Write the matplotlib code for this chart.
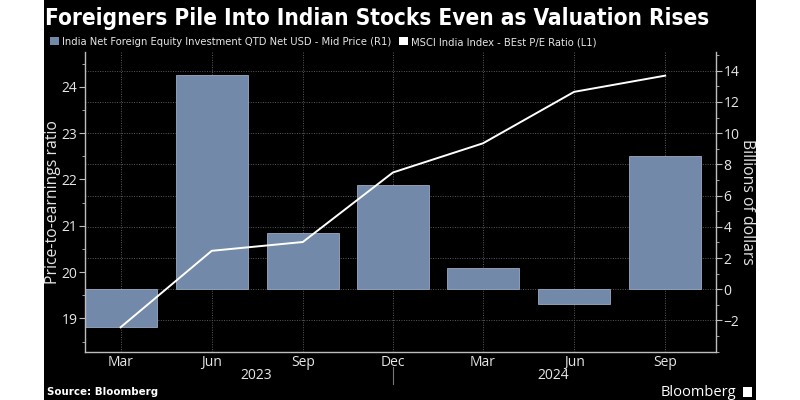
import numpy as np
import pandas as pd
import matplotlib
matplotlib.use("Agg")
import matplotlib.pyplot as plt
import matplotlib.dates as mdates
from matplotlib.patches import Patch, Rectangle
from matplotlib.ticker import MultipleLocator
from matplotlib import font_manager

# =========================
# Data
# =========================

quarters = ["2023-03-01", "2023-06-01", "2023-09-01", "2023-12-01",
            "2024-03-01", "2024-06-01", "2024-09-01"]
foreign_inflow_bn = [-2.44, 13.71, 3.63, 6.69, 1.39, -0.94, 8.54]
pe_ratio = [18.81, 20.46, 20.65, 22.15, 22.78, 23.89, 24.24]

month_ticks = ["2023-03-01", "2023-06-01", "2023-09-01", "2023-12-01",
               "2024-03-01", "2024-06-01", "2024-09-01"]
usd_ticks = [-2, 0, 2, 4, 6, 8, 10, 12, 14]
year_labels = ["2023", "2024"]
year_label_dates = ["2023-07-16", "2024-05-11"]

title = "Foreigners Pile Into Indian Stocks Even as Valuation Rises"
bar_label = "India Net Foreign Equity Investment QTD Net USD - Mid Price (R1)"
line_label = "MSCI India Index - BEst P/E Ratio (L1)"

BAR_COLOR = "#7389aa"
BG = "black"
FG = "#e6e6e6"
GRID = "#5a5a5a"

# pick a narrow font for title / legend if one is installed
installed = {f.name for f in font_manager.fontManager.ttflist}
narrow = "Liberation Sans Narrow" if "Liberation Sans Narrow" in installed else "DejaVu Sans"
narrow_kw = {"family": narrow}
if narrow == "DejaVu Sans":
    narrow_kw["stretch"] = "condensed"

dates = pd.to_datetime(quarters)
plt.rcParams["font.family"] = ["Open Sans", "DejaVu Sans"]

fig = plt.figure(figsize=(8, 4), dpi=100)
fig.patch.set_facecolor("white")
fig.patches.append(Rectangle((44 / 800, 0), 712 / 800, 1, transform=fig.transFigure,
                             facecolor=BG, edgecolor="none", zorder=-5))

ax_usd = fig.add_axes([0.10625, 0.11925, 0.78835, 0.75075])
ax_pe = ax_usd.twinx()
# line axis on the left and above the bars
ax_pe.yaxis.tick_left()
ax_pe.yaxis.set_label_position("left")
ax_usd.yaxis.tick_right()
ax_usd.yaxis.set_label_position("right")
ax_pe.set_zorder(ax_usd.get_zorder() + 1)
ax_pe.patch.set_visible(False)
ax_usd.set_facecolor(BG)

# =========================
# Bars and line
# =========================

ax_usd.bar(dates, foreign_inflow_bn, width=72.5, color=BAR_COLOR,
           edgecolor="#9aabc4", linewidth=0.6, zorder=2)
ax_pe.plot(dates, pe_ratio, color="white", linewidth=1.4, zorder=3)

ax_usd.set_xlim(pd.Timestamp("2023-01-24"), pd.Timestamp("2024-10-22"))
ax_usd.set_ylim(-4.04, 15.2)
ax_pe.set_ylim(18.27, 24.75)

ax_usd.set_yticks(usd_ticks)
ax_usd.yaxis.set_minor_locator(MultipleLocator(1))
ax_pe.yaxis.set_major_locator(MultipleLocator(1))
ax_pe.yaxis.set_minor_locator(MultipleLocator(0.5))

ax_usd.set_xticks(pd.to_datetime(month_ticks))
ax_usd.xaxis.set_major_formatter(mdates.DateFormatter("%b"))

ax_usd.grid(axis="both", which="major", color=GRID, linestyle=(0, (1, 1.5)), linewidth=0.7)
ax_usd.set_axisbelow(True)

for a in (ax_usd, ax_pe):
    a.spines["top"].set_visible(False)
    for side in ("left", "right", "bottom"):
        a.spines[side].set_color("#bdbdbd")
        a.spines[side].set_linewidth(1.0)
    a.tick_params(which="both", colors="#bdbdbd", labelcolor=FG, labelsize=10,
                  direction="out", pad=1.5)
    a.tick_params(which="major", length=4)
    a.tick_params(which="minor", length=2.5)

ax_usd.tick_params(axis="x", length=0, pad=2)
ax_usd.spines["left"].set_visible(False)
ax_pe.spines["right"].set_visible(False)
ax_pe.spines["bottom"].set_visible(False)

# year labels under months, with separator below Dec
for lab, d in zip(year_labels, year_label_dates):
    ax_usd.annotate(lab, xy=(mdates.date2num(pd.Timestamp(d)), 0),
                    xycoords=("data", "axes fraction"),
                    xytext=(0, -17), textcoords="offset points", ha="center", va="center",
                    color=FG, fontsize=10)
sep_x = mdates.date2num(pd.Timestamp("2023-12-01"))
ax_usd.plot([sep_x, sep_x], [-0.05, -0.105], transform=ax_usd.get_xaxis_transform(),
            color="#777777", linewidth=0.8, clip_on=False)

# axis titles
fig.text(53 / 800, 0.496, "Price-to-earnings ratio", rotation=90, ha="center", va="center",
         color=FG, fontsize=11.3)
fig.text(747 / 800, 0.494, "Billions of dollars", rotation=270, ha="center", va="center",
         color=FG, fontsize=11.3)

# =========================
# Title, legend, footer
# =========================

t = fig.text(45 / 800, 0.955, title, color="white", fontsize=19, weight="bold",
             ha="left", va="center", **narrow_kw)
fig.canvas.draw()
w = t.get_window_extent().width
t.set_fontsize(19 * 664 / w)

handles = [Patch(facecolor=BAR_COLOR, edgecolor="none", label=bar_label),
           Patch(facecolor="white", edgecolor="none", label=line_label)]
leg = fig.legend(handles=handles, loc="center left", bbox_to_anchor=(0.0625, 0.895), ncol=2,
                 frameon=False, handlelength=0.8, handleheight=0.8, handletextpad=0.3,
                 columnspacing=0.7, borderaxespad=0, borderpad=0,
                 prop={"size": 8.0, **narrow_kw})
for txt in leg.get_texts():
    txt.set_color(FG)

fig.text(47 / 800, 1 - 392 / 400, "Source: Bloomberg", color="white", fontsize=7.4,
         weight="bold", ha="left", va="center", family="DejaVu Sans")
fig.text(736 / 800, 1 - 392 / 400, "Bloomberg", color="white", fontsize=10.5,
         ha="right", va="center")
fig.patches.append(Rectangle((743 / 800, 1 - 397 / 400), 9 / 800, 10 / 400,
                             transform=fig.transFigure, facecolor="white",
                             edgecolor="none", zorder=3))

fig.savefig("out.png", dpi=100, facecolor=fig.get_facecolor())
